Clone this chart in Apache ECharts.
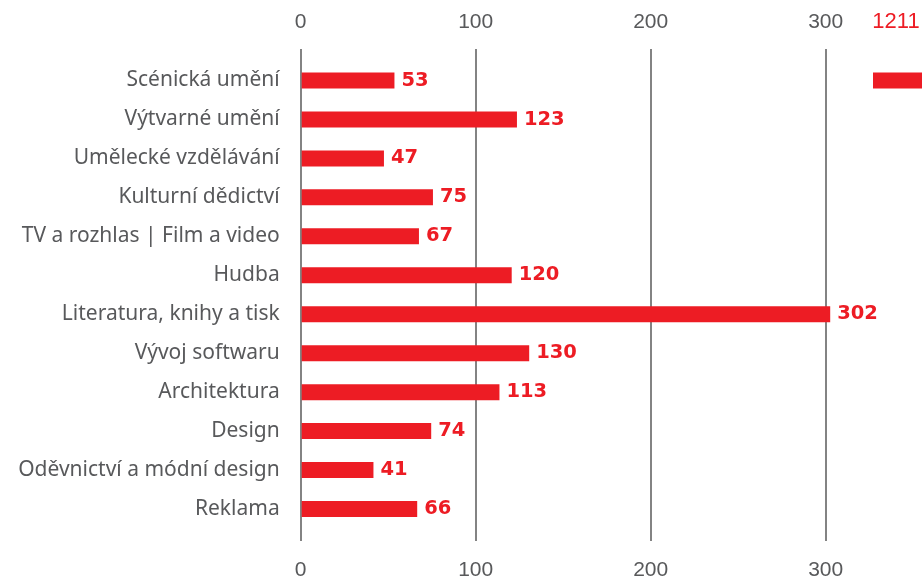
<!DOCTYPE html>
<html>
<head>
<meta charset="utf-8">
<script src="https://cdn.jsdelivr.net/npm/echarts@6/dist/echarts.min.js"></script>
<style>
html,body{margin:0;padding:0;background:#fff;}
#chart{width:922px;height:581px;}
</style>
</head>
<body>
<div id="chart"></div>
<script>
const categories = [
  'Scénická umění',
  'Výtvarné umění',
  'Umělecké vzdělávání',
  'Kulturní dědictví',
  'TV a rozhlas | Film a video',
  'Hudba',
  'Literatura, knihy a tisk',
  'Vývoj softwaru',
  'Architektura',
  'Design',
  'Oděvnictví a módní design',
  'Reklama'
];
const values = [53, 123, 47, 75, 67, 120, 302, 130, 113, 74, 41, 66];
const totalCategory = ['Celkem'];
const totalValues = [1211];
const axisTicks = [0, 100, 200, 300];

const RED = '#ED1C24';
const GREY_TEXT = '#58595B';
const LINE = '#5a5a5a';
const PX_PER_UNIT = 1.75;
const X0 = 300.7;

const chart = echarts.init(document.getElementById('chart'), null, {renderer: 'canvas'});
const tickMax = axisTicks[axisTicks.length - 1];
const tickStep = axisTicks[1] - axisTicks[0];
const barMax = 320;

chart.setOption({
  animation: false,
  backgroundColor: '#ffffff',
  grid: [
    {left: X0, top: 49, width: tickMax * PX_PER_UNIT, height: 492},
    {left: X0 + 1, top: 61, width: barMax * PX_PER_UNIT, height: 467.5},
    {left: 873, top: 61, width: 51, height: 467.5 / categories.length}
  ],
  xAxis: [
    {
      gridIndex: 0, type: 'value', position: 'top', min: 0, max: tickMax, interval: tickStep,
      axisLine: {show: false}, axisTick: {show: false},
      splitLine: {show: true, lineStyle: {color: LINE, width: 1.5}},
      axisLabel: {color: GREY_TEXT, fontSize: 21, fontFamily: 'Liberation Sans, Arial, sans-serif', margin: 16}
    },
    {
      gridIndex: 0, type: 'value', position: 'bottom', min: 0, max: tickMax, interval: tickStep,
      axisLine: {show: false}, axisTick: {show: false}, splitLine: {show: false},
      axisLabel: {color: GREY_TEXT, fontSize: 21, fontFamily: 'Liberation Sans, Arial, sans-serif', margin: 19}
    },
    {
      gridIndex: 1, type: 'value', min: 0, max: barMax, show: false
    },
    {
      gridIndex: 2, type: 'value', position: 'top', min: 0, max: totalValues[0],
      axisLine: {show: false}, axisTick: {show: false}, axisLabel: {show: false}, splitLine: {show: false},
      name: String(totalValues[0]), nameLocation: 'middle', nameGap: 28,
      nameTextStyle: {color: RED, fontSize: 22, fontFamily: 'Liberation Sans, Arial, sans-serif', padding: [0, 3, 0, 0]}
    }
  ],
  yAxis: [
    {gridIndex: 0, type: 'value', min: 0, max: 1, show: false},
    {
      gridIndex: 1, type: 'category', data: categories, inverse: true,
      axisLine: {show: false}, axisTick: {show: false}, splitLine: {show: false},
      axisLabel: {color: GREY_TEXT, fontSize: 21, fontFamily: 'Noto Sans, Lato, sans-serif', margin: 22}
    },
    {gridIndex: 2, type: 'category', data: totalCategory, inverse: true, show: false}
  ],
  series: [
    {
      type: 'bar', xAxisIndex: 2, yAxisIndex: 1, data: values, barWidth: 16,
      itemStyle: {color: RED},
      label: {
        show: true, position: 'right', distance: 7, color: RED,
        fontSize: 19.5, fontWeight: 'bold', fontFamily: 'DejaVu Sans, Liberation Sans, sans-serif'
      }
    },
    {
      type: 'bar', xAxisIndex: 3, yAxisIndex: 2, data: totalValues, barWidth: 16,
      itemStyle: {color: RED}, label: {show: false}
    }
  ]
});
</script>
</body>
</html>
